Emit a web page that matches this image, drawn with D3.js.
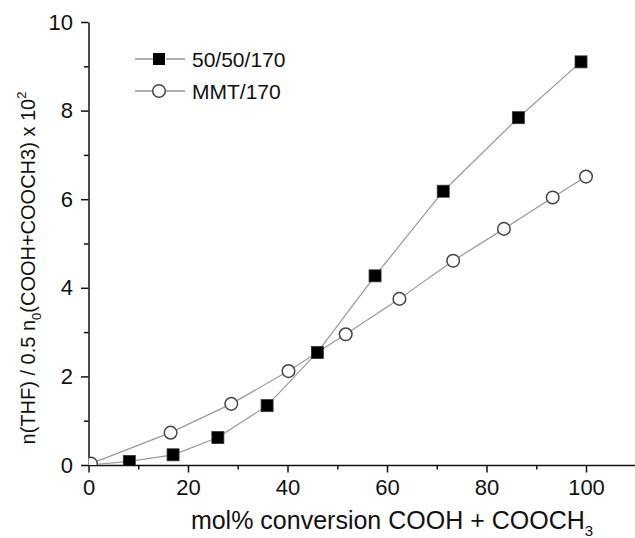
<!DOCTYPE html>
<html>
<head>
<meta charset="utf-8">
<script src="https://cdn.jsdelivr.net/npm/d3@7"></script>
<style>
  body { margin: 0; background: #fff; }
  svg text { font-family: "Liberation Sans", Arial, sans-serif; fill: #111; }
  .axis path, .axis line { stroke: #111; stroke-width: 1.5px; }
</style>
</head>
<body>
<svg id="chart" width="635" height="538"></svg>
<script>
// 50/50/170 series (filled squares)
const convA = [0, 8.2, 17.0, 26.0, 35.9, 46.0, 57.6, 71.3, 86.4, 99.0];
const thfA  = [0, 0.08, 0.23, 0.62, 1.34, 2.54, 4.27, 6.18, 7.84, 9.10];
// MMT/170 series (open circles)
const convB = [0.5, 16.5, 28.7, 40.2, 51.7, 62.5, 73.3, 83.5, 93.3, 100.0];
const thfB  = [0.03, 0.73, 1.38, 2.12, 2.95, 3.75, 4.61, 5.33, 6.04, 6.51];

const seriesNames = ["50/50/170", "MMT/170"];
const xTicks = [0, 20, 40, 60, 80, 100];
const xMinor = [10, 30, 50, 70, 90];
const yTicks = [0, 2, 4, 6, 8, 10];
const yMinor = [1, 3, 5, 7, 9];

const margin = {left: 88.5, top: 22, bottom: 73};
const width = 635, height = 538;

const svg = d3.select("#chart");

const x = d3.scaleLinear().domain([0, 110]).range([margin.left, margin.left + 4.975 * 110]);
const y = d3.scaleLinear().domain([0, 10]).range([height - margin.bottom, margin.top]);

// clip markers to plot area
svg.append("defs").append("clipPath").attr("id", "plotclip")
  .append("rect")
  .attr("x", x(0)).attr("y", y(10) - 10)
  .attr("width", x(110) - x(0)).attr("height", y(0) - y(10) + 10);

// minor ticks
svg.append("g")
  .attr("class", "axis")
  .attr("transform", `translate(0,${y(0)})`)
  .call(d3.axisBottom(x).tickValues(xMinor).tickSize(4.5).tickFormat(""))
  .call(g => g.select(".domain").remove());

svg.append("g")
  .attr("class", "axis")
  .attr("transform", `translate(${x(0)},0)`)
  .call(d3.axisLeft(y).tickValues(yMinor).tickSize(4.5).tickFormat(""))
  .call(g => g.select(".domain").remove());

// major axes
svg.append("g")
  .attr("class", "axis")
  .attr("transform", `translate(0,${y(0)})`)
  .call(d3.axisBottom(x).tickValues(xTicks).tickSize(7.5).tickSizeOuter(0).tickPadding(7))
  .call(g => g.selectAll("text").style("font-size", "22px"));

svg.append("g")
  .attr("class", "axis")
  .attr("transform", `translate(${x(0)},0)`)
  .call(d3.axisLeft(y).tickValues(yTicks).tickSize(7.5).tickSizeOuter(0).tickPadding(8))
  .call(g => g.selectAll("text").style("font-size", "22px"));

// lines
const line = d3.line().x(d => x(d[0])).y(d => y(d[1]));
const dataA = convA.map((c, i) => [c, thfA[i]]);
const dataB = convB.map((c, i) => [c, thfB[i]]);

const plot = svg.append("g").attr("clip-path", "url(#plotclip)");

plot.append("path").datum(dataA)
  .attr("d", line).attr("fill", "none")
  .attr("stroke", "#9a9a9a").attr("stroke-width", 1.2);
plot.append("path").datum(dataB)
  .attr("d", line).attr("fill", "none")
  .attr("stroke", "#9a9a9a").attr("stroke-width", 1.2);

const sq = 12;
plot.selectAll("rect.sq").data(dataA).join("rect")
  .attr("class", "sq")
  .attr("x", d => x(d[0]) - sq / 2).attr("y", d => y(d[1]) - sq / 2)
  .attr("width", sq).attr("height", sq)
  .attr("fill", "#000").attr("stroke", "#333").attr("stroke-width", 0.8);

plot.selectAll("circle.ci").data(dataB).join("circle")
  .attr("class", "ci")
  .attr("cx", d => x(d[0])).attr("cy", d => y(d[1]))
  .attr("r", 6.3)
  .attr("fill", "#fff").attr("stroke", "#444").attr("stroke-width", 1.5);

// legend
const leg = svg.append("g");
seriesNames.forEach((name, i) => {
  const ly = 59 + i * 32;
  leg.append("line").attr("x1", 135).attr("x2", 153).attr("y1", ly).attr("y2", ly)
    .attr("stroke", "#777").attr("stroke-width", 1.2);
  leg.append("line").attr("x1", 166).attr("x2", 185).attr("y1", ly).attr("y2", ly)
    .attr("stroke", "#777").attr("stroke-width", 1.2);
  if (i === 0) {
    leg.append("rect").attr("x", 159 - sq / 2).attr("y", ly - sq / 2)
      .attr("width", sq).attr("height", sq).attr("fill", "#000");
  } else {
    leg.append("circle").attr("cx", 159).attr("cy", ly).attr("r", 6.3)
      .attr("fill", "#fff").attr("stroke", "#444").attr("stroke-width", 1.5);
  }
  leg.append("text").attr("x", 192).attr("y", ly + 8)
    .style("font-size", "21px").text(name);
});

// x axis title
const xt = svg.append("text")
  .attr("x", 392).attr("y", 529)
  .attr("text-anchor", "middle")
  .style("font-size", "25px");
xt.append("tspan").text("mol% conversion COOH + COOCH");
xt.append("tspan").attr("dy", 7).style("font-size", "15px").text("3");

// y axis title
const yt = svg.append("text")
  .attr("transform", `translate(35,268) rotate(-90)`)
  .attr("text-anchor", "middle")
  .style("font-size", "20px");
yt.append("tspan").text("n(THF) / 0.5 n");
yt.append("tspan").attr("dy", 6).style("font-size", "13px").text("0");
yt.append("tspan").attr("dy", -6).text("(COOH+COOCH3) x 10");
yt.append("tspan").attr("dy", -9).style("font-size", "13px").text("2");
</script>
</body>
</html>
